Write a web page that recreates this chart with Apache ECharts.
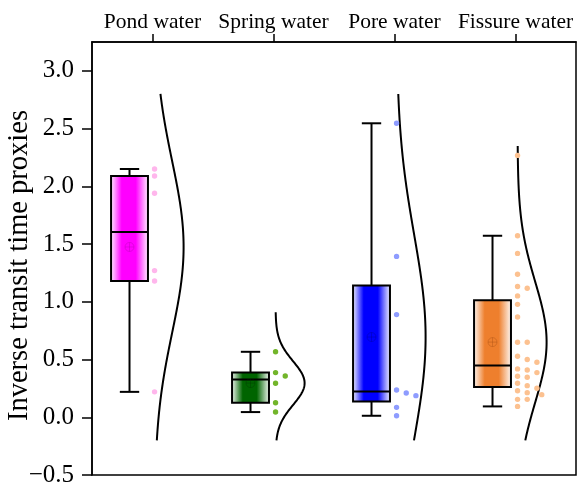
<!DOCTYPE html>
<html>
<head>
<meta charset="utf-8">
<script src="https://cdn.jsdelivr.net/npm/echarts@6/dist/echarts.min.js"></script>
<style>
  html, body { margin: 0; padding: 0; background: #ffffff; }
  #chart { width: 579px; height: 483px; }
</style>
</head>
<body>
<div id="chart"></div>
<script>
// Sample groups
const categories = ['Pond water', 'Spring water', 'Pore water', 'Fissure water'];
const pondWater = [2.15, 2.09, 1.94, 1.27, 1.18, 0.22];
const springWater = [0.567, 0.387, 0.358, 0.294, 0.126, 0.045];
const poreWater = [2.546, 1.393, 0.889, 0.236, 0.210, 0.187, 0.086, 0.013];
const fissureWater = [2.268, 1.572, 1.419, 1.239, 1.132, 1.117, 1.051, 0.978, 0.868,
  0.650, 0.650, 0.529, 0.500, 0.477, 0.419, 0.410, 0.387, 0.355, 0.346, 0.294,
  0.274, 0.251, 0.230, 0.213, 0.196, 0.155, 0.155, 0.094];
// Value span over which each fitted normal curve is traced
const curveLow = [-0.2, -0.2, -0.2, -0.2];
const curveHigh = [2.80, 0.91, 2.80, 2.35];
// Y axis ticks
const yTicks = [-0.5, 0, 0.5, 1.0, 1.5, 2.0, 2.5, 3.0];

const groups = [pondWater, springWater, poreWater, fissureWater];

// Styling
const boxColors = ['#ff00ff', '#006400', '#0000ff', '#ee7f2d'];
const meanColors = ['#b000b0', '#003300', '#000090', '#a04a10'];
const dotColors = ['#ffb6ec', '#72b52a', '#8e9cff', '#fcc190'];
const FONT = '"Liberation Serif", "Times New Roman", serif';
const BOX_SHIFT = -0.19, BOX_W = 0.305, CAP_W = 0.16;
const CURVE_BASE = 0.017, CURVE_AMP = 0.24;
const DOT_R = 2.7, SWARM_STEP = 0.04, SWARM_GAP = 6.5;

// Summary statistics (Tukey hinges, 1.5 IQR whiskers)
function medianOf(s) {
  const n = s.length, m = Math.floor(n / 2);
  return n % 2 ? s[m] : (s[m - 1] + s[m]) / 2;
}
function stats(vals) {
  const s = vals.slice().sort((a, b) => a - b);
  const n = s.length, h = Math.floor(n / 2);
  const q1 = medianOf(s.slice(0, h));
  const q3 = medianOf(s.slice(n - h));
  const med = medianOf(s);
  const iqr = q3 - q1;
  const lowW = s.find(v => v >= q1 - 1.5 * iqr);
  const highW = s.slice().reverse().find(v => v <= q3 + 1.5 * iqr);
  const mean = s.reduce((a, b) => a + b, 0) / n;
  const sd = Math.sqrt(s.reduce((a, b) => a + (b - mean) * (b - mean), 0) / (n - 1));
  return { q1, q3, med, lowW, highW, mean, sd };
}
const groupStats = groups.map(stats);

const boxData = groupStats.map((st, i) => [i, st.lowW, st.q1, st.med, st.q3, st.highW, st.mean]);
const curveData = groupStats.map((st, i) => [i, st.mean, st.sd, curveLow[i], curveHigh[i]]);
const dotData = groups.map((g, i) => [i]);

function renderBox(params, api) {
  const i = api.value(0);
  const band = api.size([1, 0])[0];
  const cx = api.coord([i, 0])[0] + BOX_SHIFT * band;
  const y = v => api.coord([i, v])[1];
  const w = BOX_W * band, cap = CAP_W * band;
  const lowW = y(api.value(1)), q1 = y(api.value(2)), med = y(api.value(3));
  const q3 = y(api.value(4)), highW = y(api.value(5)), mean = y(api.value(6));
  const c = boxColors[i];
  const line = { stroke: '#000', lineWidth: 2 };
  const mc = meanColors[i];
  return {
    type: 'group',
    children: [
      { type: 'line', shape: { x1: cx, y1: q3, x2: cx, y2: highW }, style: line },
      { type: 'line', shape: { x1: cx, y1: q1, x2: cx, y2: lowW }, style: line },
      { type: 'line', shape: { x1: cx - cap / 2, y1: highW, x2: cx + cap / 2, y2: highW }, style: line },
      { type: 'line', shape: { x1: cx - cap / 2, y1: lowW, x2: cx + cap / 2, y2: lowW }, style: line },
      {
        type: 'rect',
        shape: { x: cx - w / 2, y: q3, width: w, height: q1 - q3 },
        style: {
          fill: {
            type: 'linear', x: 0, y: 0, x2: 1, y2: 0,
            colorStops: [
              { offset: 0, color: '#ffffff' },
              { offset: 0.3, color: c },
              { offset: 0.66, color: c },
              { offset: 1, color: '#ffffff' }
            ]
          },
          stroke: '#000', lineWidth: 2
        }
      },
      { type: 'line', shape: { x1: cx - w / 2, y1: med, x2: cx + w / 2, y2: med }, style: line },
      { type: 'circle', shape: { cx: cx, cy: mean, r: 4.5 }, style: { fill: 'none', stroke: mc, lineWidth: 1, opacity: 0.35 } },
      { type: 'line', shape: { x1: cx - 4.5, y1: mean, x2: cx + 4.5, y2: mean }, style: { stroke: mc, lineWidth: 1, opacity: 0.35 } },
      { type: 'line', shape: { x1: cx, y1: mean - 4.5, x2: cx, y2: mean + 4.5 }, style: { stroke: mc, lineWidth: 1, opacity: 0.35 } }
    ]
  };
}

function renderCurve(params, api) {
  const i = api.value(0);
  const mu = api.value(1), sd = api.value(2), lo = api.value(3), hi = api.value(4);
  const band = api.size([1, 0])[0];
  const base = api.coord([i, 0])[0] + CURVE_BASE * band;
  const amp = CURVE_AMP * band;
  const pts = [];
  const steps = 160;
  for (let k = 0; k <= steps; k++) {
    const v = lo + (hi - lo) * k / steps;
    const z = (v - mu) / sd;
    const p = api.coord([i, v]);
    pts.push([base + amp * Math.exp(-0.5 * z * z), p[1]]);
  }
  return {
    type: 'polyline',
    shape: { points: pts },
    style: { fill: 'none', stroke: '#000', lineWidth: 2 }
  };
}

// Points laid out as a simple one-sided swarm next to the curve baseline
function renderDots(params, api) {
  const i = api.value(0);
  const band = api.size([1, 0])[0];
  const base = api.coord([i, 0])[0] + CURVE_BASE * band;
  const step = SWARM_STEP * band;
  const placed = [];
  const children = [];
  groups[i].forEach(v => {
    const py = api.coord([i, v])[1];
    let k = 0, px;
    for (;;) {
      px = base + k * step;
      const clash = placed.some(q => Math.hypot(q[0] - px, q[1] - py) < SWARM_GAP);
      if (!clash) break;
      k++;
    }
    placed.push([px, py]);
    children.push({ type: 'circle', shape: { cx: px, cy: py, r: DOT_R }, style: { fill: dotColors[i] } });
  });
  return { type: 'group', children };
}

const chart = echarts.init(document.getElementById('chart'), null, { renderer: 'canvas' });
chart.setOption({
  animation: false,
  backgroundColor: '#ffffff',
  grid: {
    left: 92, right: 3, top: 42, bottom: 8,
    outerBoundsMode: 'none',
    containLabel: false,
    show: true, borderColor: '#000', borderWidth: 1.5, backgroundColor: 'transparent'
  },
  xAxis: {
    type: 'category',
    position: 'top',
    data: categories,
    boundaryGap: true,
    axisLine: { show: true, onZero: false, lineStyle: { color: '#000', width: 1.5 } },
    axisTick: { show: true, alignWithLabel: true, length: 8, lineStyle: { color: '#000', width: 1.5 } },
    axisLabel: { color: '#000', fontFamily: FONT, fontSize: 21.5, margin: 9, interval: 0 },
    splitLine: { show: false }
  },
  yAxis: {
    type: 'value',
    min: -0.5, max: 3.25, interval: 0.5,
    name: 'Inverse transit time proxies',
    nameLocation: 'middle',
    nameRotate: 90,
    nameGap: 58,
    nameMoveOverlap: false,
    nameTextStyle: { color: '#000', fontFamily: FONT, fontSize: 28.5, padding: [0, 14, 0, 0] },
    axisLine: { show: true, lineStyle: { color: '#000', width: 1.5 } },
    axisTick: { show: true, length: 10, customValues: yTicks, lineStyle: { color: '#000', width: 1.5 } },
    axisLabel: {
      color: '#000', fontFamily: FONT, fontSize: 25, margin: 18,
      customValues: yTicks,
      formatter: v => (v < 0 ? '\u2212' : '') + Math.abs(v).toFixed(1)
    },
    splitLine: { show: false }
  },
  series: [
    { type: 'custom', name: 'curve', renderItem: renderCurve, data: curveData, clip: false, z: 2 },
    { type: 'custom', name: 'box', renderItem: renderBox, data: boxData, z: 3 },
    { type: 'custom', name: 'points', renderItem: renderDots, data: dotData, z: 4 }
  ]
});
</script>
</body>
</html>
